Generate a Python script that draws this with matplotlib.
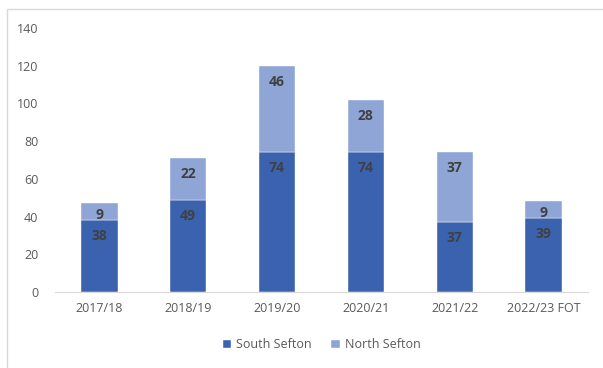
import matplotlib.pyplot as plt
from matplotlib.patches import Rectangle

years = ['2017/18', '2018/19', '2019/20', '2020/21', '2021/22', '2022/23 FOT']
south = [38, 49, 74, 74, 37, 39]
north = [9, 22, 46, 28, 37, 9]

south_col = '#3A62AE'
north_col = '#8FA5D6'
text_col = '#595959'
label_col = '#404040'

plt.rcParams['font.family'] = ['Open Sans', 'DejaVu Sans']

fig = plt.figure(figsize=(6.03, 3.68), dpi=100)
ax = fig.add_axes([55 / 603, 76 / 368, 533 / 603, 264 / 368])

x = range(len(years))
ax.bar(x, south, width=0.41, color=south_col, edgecolor='white', linewidth=0.3,
       label='South Sefton', zorder=2)
ax.bar(x, north, width=0.41, bottom=south, color=north_col, edgecolor='white',
       linewidth=0.3, label='North Sefton', zorder=2)

# value labels sit just inside the top of each segment
for i in x:
    for top, val in ((south[i], south[i]), (south[i] + north[i], north[i])):
        off = -12 if val < 15 else -16
        ax.annotate(str(val), (i, top), xytext=(0, off), textcoords='offset pixels',
                    ha='center', va='center', fontsize=10, fontweight='bold',
                    color=label_col, zorder=3)

ax.set_xlim(-0.5, len(years) - 0.5)
ax.set_ylim(0, 140)
ax.set_yticks(range(0, 141, 20))
ax.set_xticks(list(x))
ax.set_xticklabels(years)
ax.tick_params(axis='both', length=0, labelsize=9, colors=text_col)
ax.tick_params(axis='y', pad=12)
ax.tick_params(axis='x', pad=7)
for s in ('top', 'right', 'left'):
    ax.spines[s].set_visible(False)
ax.spines['bottom'].set_color('#D9D9D9')

ax.legend(loc='center', bbox_to_anchor=(0.5, -0.2), ncol=2, frameon=False,
          fontsize=9, labelcolor=text_col, handlelength=0.7, handleheight=0.7,
          handletextpad=0.4, columnspacing=1.5)

# chart frame
fig.patches.append(Rectangle((7 / 603, -0.01), 600 / 603, (368 - 9) / 368 + 0.01,
                             transform=fig.transFigure, fill=False,
                             edgecolor='#D9D9D9', linewidth=1))

fig.savefig('out.png', dpi=100)
